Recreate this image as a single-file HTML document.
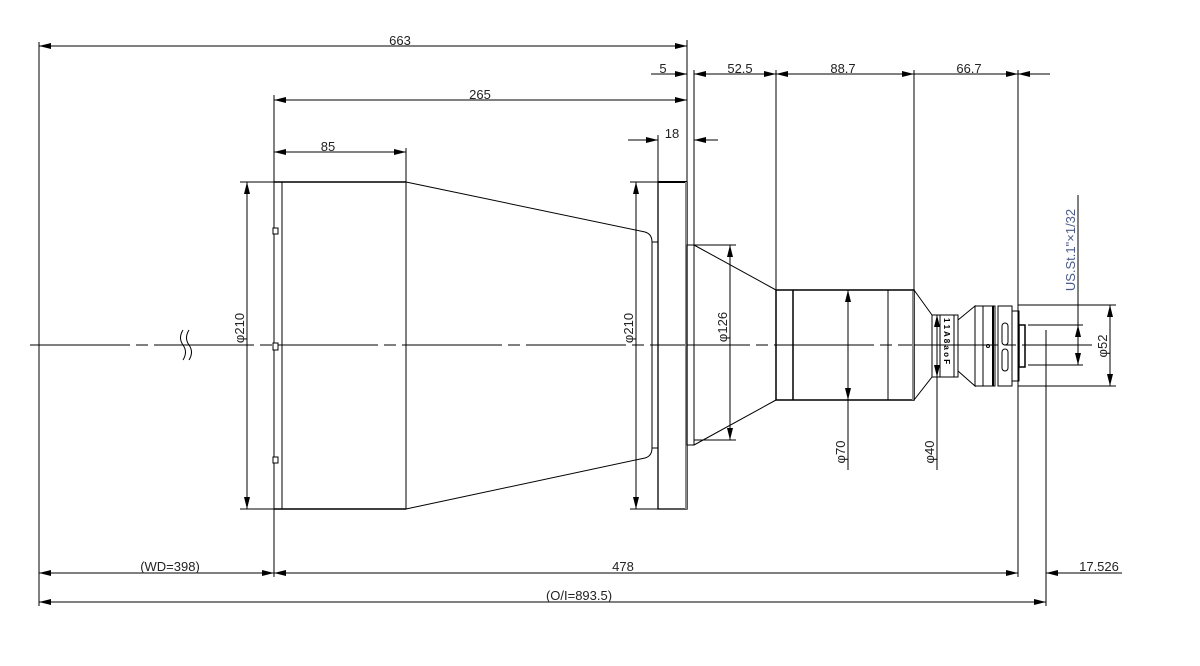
<!DOCTYPE html>
<html><head><meta charset="utf-8"><style>
html,body{margin:0;padding:0;background:#fff;}
svg{display:block;}
text{font-family:"Liberation Sans","Noto Sans CJK SC",sans-serif;font-size:13px;fill:#222;}
</style></head><body>
<svg width="1200" height="666" viewBox="0 0 1200 666" xmlns="http://www.w3.org/2000/svg">
<defs>
<marker id="a" viewBox="0 0 12 6" refX="12" refY="3" markerWidth="12" markerHeight="6" markerUnits="userSpaceOnUse" orient="auto-start-reverse"><path d="M0,0 L12,3 L0,6 z" fill="#000"/></marker>
</defs>
<g stroke="#000" stroke-width="1" fill="none">
<!-- center line -->
<line x1="30" y1="345" x2="1092" y2="345" stroke-dasharray="100,6,12,6"/>
<!-- extension lines -->
<line x1="39" y1="42" x2="39" y2="606"/>
<line x1="687" y1="40" x2="687" y2="245"/>
<line x1="694" y1="70" x2="694" y2="245"/>
<line x1="776" y1="70" x2="776" y2="290"/>
<line x1="914" y1="70" x2="914" y2="290"/>
<line x1="1018" y1="70" x2="1018" y2="577"/>
<line x1="274" y1="95" x2="274" y2="577"/>
<line x1="406" y1="148" x2="406" y2="182"/>
<line x1="658" y1="135" x2="658" y2="182"/>
<line x1="1046" y1="330" x2="1046" y2="606"/>
<!-- top dims -->
<line x1="39" y1="46" x2="687" y2="46" marker-start="url(#a)" marker-end="url(#a)"/>
<line x1="274" y1="100" x2="687" y2="100" marker-start="url(#a)" marker-end="url(#a)"/>
<line x1="274" y1="152" x2="406" y2="152" marker-start="url(#a)" marker-end="url(#a)"/>
<line x1="651" y1="74" x2="687" y2="74" marker-end="url(#a)"/>
<line x1="694" y1="74" x2="776" y2="74" marker-start="url(#a)" marker-end="url(#a)"/>
<line x1="776" y1="74" x2="914" y2="74" marker-start="url(#a)" marker-end="url(#a)"/>
<line x1="914" y1="74" x2="1018" y2="74" marker-end="url(#a)"/>
<line x1="1050" y1="74" x2="1018" y2="74" marker-end="url(#a)"/>
<line x1="620" y1="100" x2="687" y2="100"/>
<line x1="628" y1="140" x2="658" y2="140" marker-end="url(#a)"/>
<line x1="718" y1="140" x2="694" y2="140" marker-end="url(#a)"/>
<!-- bottom dims -->
<line x1="39" y1="573" x2="274" y2="573" marker-start="url(#a)" marker-end="url(#a)"/>
<line x1="274" y1="573" x2="1018" y2="573" marker-start="url(#a)" marker-end="url(#a)"/>
<line x1="1122" y1="573" x2="1046" y2="573" marker-end="url(#a)"/>
<line x1="39" y1="602" x2="1046" y2="602" marker-start="url(#a)" marker-end="url(#a)"/>
<!-- front barrel -->
<rect x="274" y="182" width="8" height="327"/>
<rect x="282" y="182" width="124" height="327"/>
<line x1="274" y1="182" x2="406" y2="182" stroke-width="1.5"/>
<line x1="274" y1="509" x2="406" y2="509" stroke-width="1.5"/>
<rect x="273" y="228" width="5" height="6" fill="#fff"/>
<rect x="273" y="343" width="5" height="7" fill="#fff"/>
<rect x="273" y="457" width="5" height="6" fill="#fff"/>
<path d="M406,182 L645,232 Q652,234 652,242 L652,448 Q652,456 645,458 L406,509"/>
<line x1="652" y1="242" x2="658" y2="242"/>
<line x1="652" y1="448" x2="658" y2="448"/>
<!-- flange -->
<rect x="658" y="182" width="29" height="327" stroke-width="1.3"/>
<line x1="658" y1="182" x2="687" y2="182" stroke-width="2"/>
<line x1="686" y1="182" x2="686" y2="509" stroke="#888" stroke-width="2"/>
<rect x="687" y="245" width="7" height="200"/>
<!-- cone to cylinder -->
<line x1="694" y1="245" x2="776" y2="290"/>
<line x1="694" y1="445" x2="776" y2="400"/>
<rect x="776" y="290" width="138" height="110" stroke-width="1.5"/>
<line x1="793" y1="290" x2="793" y2="400" stroke-width="1.5"/>
<line x1="888" y1="290" x2="888" y2="400"/>
<line x1="913" y1="291" x2="913" y2="400" stroke="#888" stroke-width="2"/>
<path d="M914,290 L932,315 L932,377 L914,400"/>
<rect x="932" y="315" width="26" height="62"/>
<line x1="940" y1="315" x2="940" y2="377"/>
<line x1="954" y1="315" x2="954" y2="377"/>
<text x="0" y="0" transform="translate(944,318) rotate(90)" style="font-size:8px;font-weight:bold;fill:#000;stroke:none">1 1 A 8 a o F</text>
<path d="M958,320 L975,306 L975,386 L958,371"/>
<rect x="975" y="306" width="20" height="80"/>
<line x1="983" y1="306" x2="983" y2="386"/>
<line x1="993" y1="306" x2="993" y2="386" stroke-width="2"/>
<rect x="998" y="306" width="14" height="80"/>
<rect x="1012" y="311" width="7" height="70"/>
<rect x="1019" y="325" width="6" height="42" stroke-width="1.5"/>
<rect x="1002" y="323" width="6" height="22" rx="3"/>
<rect x="1002" y="349" width="6" height="22" rx="3"/>
<circle cx="988" cy="346" r="1.5"/>
<!-- diameter dims -->
<line x1="240" y1="182" x2="274" y2="182"/>
<line x1="240" y1="509" x2="274" y2="509"/>
<line x1="247" y1="182" x2="247" y2="509" marker-start="url(#a)" marker-end="url(#a)"/>
<line x1="630" y1="182" x2="658" y2="182"/>
<line x1="630" y1="509" x2="658" y2="509"/>
<line x1="636" y1="182" x2="636" y2="509" marker-start="url(#a)" marker-end="url(#a)"/>
<line x1="694" y1="245" x2="736" y2="245"/>
<line x1="694" y1="440" x2="736" y2="440"/>
<line x1="730" y1="245" x2="730" y2="440" marker-start="url(#a)" marker-end="url(#a)"/>
<line x1="848" y1="290" x2="848" y2="400" marker-start="url(#a)" marker-end="url(#a)"/>
<line x1="848" y1="400" x2="848" y2="470"/>
<line x1="937" y1="315" x2="937" y2="377" marker-start="url(#a)" marker-end="url(#a)"/>
<line x1="937" y1="377" x2="937" y2="470"/>
<line x1="1018" y1="305" x2="1116" y2="305"/>
<line x1="1018" y1="386" x2="1116" y2="386"/>
<line x1="1110" y1="305" x2="1110" y2="386" marker-start="url(#a)" marker-end="url(#a)"/>
<line x1="1028" y1="325" x2="1083" y2="325"/>
<line x1="1028" y1="365" x2="1083" y2="365"/>
<line x1="1078" y1="325" x2="1078" y2="365" marker-start="url(#a)" marker-end="url(#a)"/>
<line x1="1078" y1="195" x2="1078" y2="325"/>
<!-- break symbol -->
<path d="M183,330 Q178,338 183,345 Q188,352 183,360"/>
<path d="M189,330 Q184,338 189,345 Q194,352 189,360"/>
</g>
<!-- labels -->
<text x="400" y="45" text-anchor="middle">663</text>
<text x="480" y="99" text-anchor="middle">265</text>
<text x="328" y="151" text-anchor="middle">85</text>
<text x="663" y="73" text-anchor="middle">5</text>
<text x="740" y="73" text-anchor="middle">52.5</text>
<text x="843" y="73" text-anchor="middle">88.7</text>
<text x="969" y="73" text-anchor="middle">66.7</text>
<text x="672" y="138" text-anchor="middle">18</text>
<text x="170" y="571" text-anchor="middle">(WD=398)</text>
<text x="623" y="571" text-anchor="middle">478</text>
<text x="1099" y="571" text-anchor="middle">17.526</text>
<text x="579" y="600" text-anchor="middle">(O/I=893.5)</text>
<text transform="translate(244,328) rotate(-90)" text-anchor="middle">φ210</text>
<text transform="translate(633,328) rotate(-90)" text-anchor="middle">φ210</text>
<text transform="translate(727,327) rotate(-90)" text-anchor="middle">φ126</text>
<text transform="translate(845,452) rotate(-90)" text-anchor="middle">φ70</text>
<text transform="translate(934,452) rotate(-90)" text-anchor="middle">φ40</text>
<text transform="translate(1107,346) rotate(-90)" text-anchor="middle">φ52</text>
<text transform="translate(1075,250) rotate(-90)" text-anchor="middle" style="fill:#4a5a8a">US.St.1"×1/32</text>
</svg>
</body></html>
